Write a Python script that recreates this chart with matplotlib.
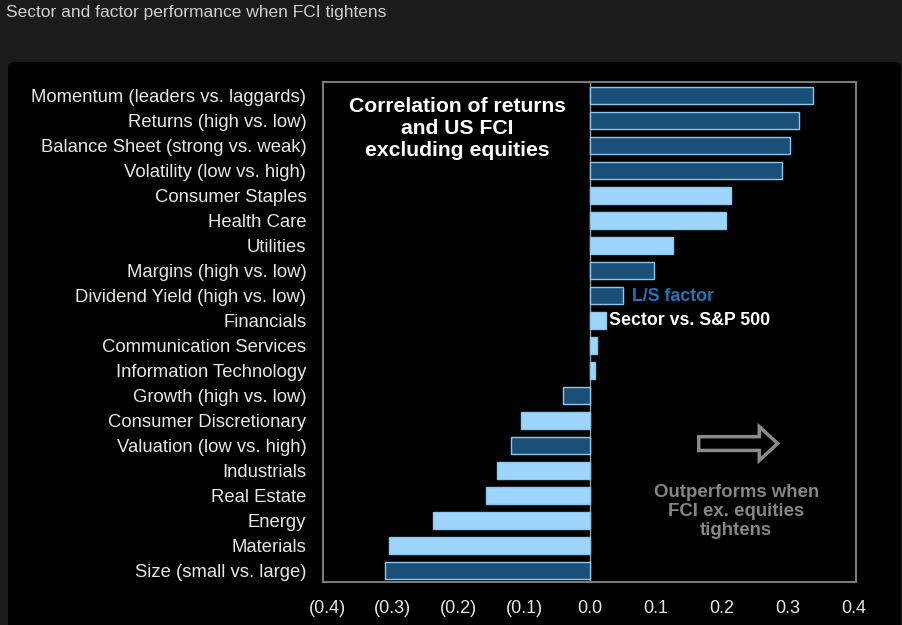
import numpy as np
import matplotlib.pyplot as plt
from matplotlib.patches import FancyArrow, FancyBboxPatch

plt.rcParams['font.family'] = ['Liberation Sans', 'DejaVu Sans']

labels = ['Momentum (leaders vs. laggards)', 'Returns (high vs. low)',
          'Balance Sheet (strong vs. weak)', 'Volatility (low vs. high)',
          'Consumer Staples', 'Health Care', 'Utilities', 'Margins (high vs. low)',
          'Dividend Yield (high vs. low)', 'Financials', 'Communication Services',
          'Information Technology', 'Growth (high vs. low)', 'Consumer Discretionary',
          'Valuation (low vs. high)', 'Industrials', 'Real Estate', 'Energy',
          'Materials', 'Size (small vs. large)']
values = [0.338, 0.318, 0.303, 0.292, 0.214, 0.206, 0.126, 0.097, 0.050, 0.024,
          0.011, 0.008, -0.041, -0.105, -0.121, -0.142, -0.158, -0.239, -0.305, -0.312]
is_factor = [1, 1, 1, 1, 0, 0, 0, 1, 1, 0, 0, 0, 1, 0, 1, 0, 0, 0, 0, 1]
xticks = [-0.4, -0.3, -0.2, -0.1, 0.0, 0.1, 0.2, 0.3, 0.4]
xticklabels = ['(0.4)', '(0.3)', '(0.2)', '(0.1)', '0.0', '0.1', '0.2', '0.3', '0.4']

factor_col = '#1a4f78'
sector_col = '#9dd5fc'
edge_col = '#8cc6ee'
txt_col = '#ece8e0'

fig = plt.figure(figsize=(9.02, 6.25), dpi=100, facecolor='#1b1b1b')
# black panel
fig.patches.append(FancyBboxPatch((8/902, -0.02), 0.99, 1 - 62/625 + 0.02,
                                  boxstyle='round,pad=0,rounding_size=0.008',
                                  transform=fig.transFigure, facecolor='black',
                                  edgecolor='none', zorder=-10))
fig.text(6/902, 1 - 13/625, 'Sector and factor performance when FCI tightens',
         color='#cfcfcf', fontsize=12.5, va='center', ha='left')

ax = fig.add_axes([323/902, 1 - 582/625, 533/902, 500/625])
ax.set_facecolor('black')
y = np.arange(len(labels))
colors = [factor_col if f else sector_col for f in is_factor]
ax.barh(y, values, height=0.68, color=colors, edgecolor=edge_col, linewidth=1, zorder=3)
ax.axvline(0, color='#9a9a9a', lw=1, zorder=2)

ax.set_xlim(-0.406, 0.404)
ax.set_ylim(19.45, -0.52)
ax.set_yticks(y)
ax.set_yticklabels(labels, color=txt_col, fontsize=13.3)
ax.set_xticks(xticks)
ax.set_xticklabels(xticklabels, color=txt_col, fontsize=13)
ax.tick_params(length=0, pad=12)
ax.tick_params(axis='x', pad=13)
for s in ax.spines.values():
    s.set_color('#7a7a7a')
    s.set_linewidth(1.5)

ax.text(-0.2015, 1.32, 'Correlation of returns\nand US FCI\nexcluding equities',
        color='white', fontsize=15.2, fontweight='bold', ha='center', va='center',
        linespacing=1.2)
ax.text(0.064, 8.05, 'L/S factor', color='#1f74b8', fontsize=12.8, fontweight='bold',
        va='center')
ax.text(0.029, 9.02, 'Sector vs. S&P 500', color='white', fontsize=12.8,
        fontweight='bold', va='center')
ax.add_patch(FancyArrow(0.165, 13.92, 0.12, 0, width=0.55, head_width=1.35,
                        head_length=0.028, length_includes_head=True,
                        facecolor='none', edgecolor='#8a8a8a', lw=2.5, zorder=4))
ax.text(0.222, 16.64, 'Outperforms when\nFCI ex. equities\ntightens', color='#858585',
        fontsize=13.4, fontweight='bold', ha='center', va='center', linespacing=1.13)

plt.savefig('out.png', dpi=100, facecolor=fig.get_facecolor())
